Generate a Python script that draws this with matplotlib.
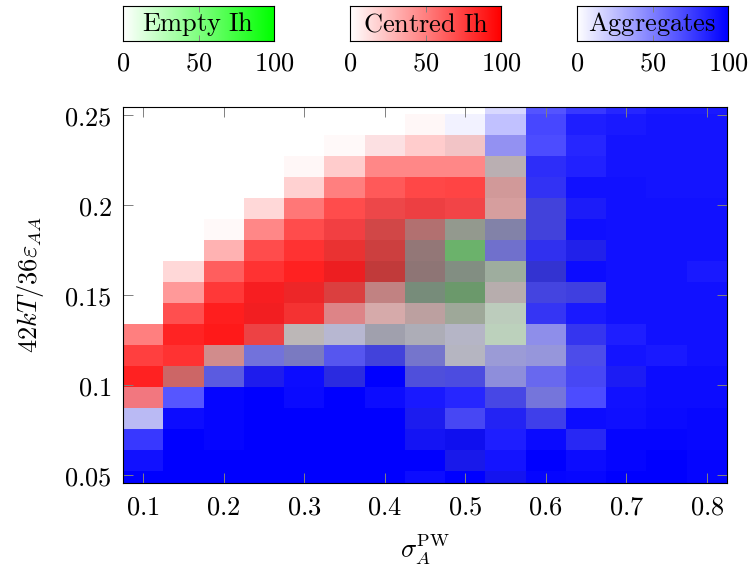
import matplotlib
matplotlib.use("Agg")
import matplotlib.pyplot as plt
import numpy as np

plt.rcParams["mathtext.fontset"] = "cm"
plt.rcParams["font.family"] = ["DejaVu Serif"]

# grid: sigma_A^PW (columns) and kT/eps (rows, top -> bottom)
sigma = [0.10, 0.15, 0.20, 0.25, 0.30, 0.35, 0.40, 0.45,
         0.50, 0.55, 0.60, 0.65, 0.70, 0.75, 0.80]
kT = [0.22, 0.21, 0.20, 0.19, 0.18, 0.17, 0.16, 0.15, 0.14, 0.13,
      0.12, 0.11, 0.10, 0.09, 0.08, 0.07, 0.06, 0.05, 0.04]

# percentage of runs ending in each state
empty_pct = [
    [0, 0, 0, 0, 0, 0, 0, 0, 0, 0, 0, 0, 0, 0, 0],
    [0, 0, 0, 0, 0, 0, 0, 0, 0, 0, 0, 0, 0, 0, 0],
    [0, 0, 0, 0, 0, 0, 0, 0, 2, 2, 0, 0, 0, 0, 0],
    [0, 0, 0, 0, 0, 0, 0, 0, 0, 13, 1, 0, 0, 0, 0],
    [0, 0, 0, 0, 0, 0, 0, 0, 0, 9, 2, 0, 0, 0, 0],
    [0, 0, 0, 0, 0, 0, 3, 3, 2, 8, 7, 1, 0, 0, 0],
    [0, 0, 0, 0, 0, 2, 9, 15, 23, 17, 7, 0, 0, 0, 0],
    [0, 0, 0, 0, 0, 4, 10, 21, 43, 10, 3, 4, 0, 0, 0],
    [0, 0, 0, 0, 0, 3, 12, 22, 27, 22, 9, 0, 0, 0, 0],
    [0, 0, 0, 1, 3, 7, 12, 30, 38, 14, 6, 6, 0, 0, 0],
    [0, 0, 0, 2, 2, 6, 8, 13, 22, 16, 2, 0, 0, 0, 0],
    [0, 0, 0, 3, 13, 9, 16, 14, 11, 17, 4, 3, 0, 0, 0],
    [0, 0, 9, 7, 12, 3, 7, 10, 12, 8, 7, 4, 0, 0, 0],
    [0, 10, 6, 3, 0, 6, 0, 7, 6, 7, 3, 2, 2, 0, 0],
    [1, 0, 0, 0, 0, 0, 0, 0, 0, 5, 7, 0, 0, 0, 0],
    [2, 0, 0, 0, 0, 0, 0, 3, 2, 2, 4, 0, 0, 0, 0],
    [0, 0, 0, 0, 0, 0, 0, 2, 3, 0, 0, 2, 0, 0, 0],
    [0, 0, 0, 0, 0, 0, 0, 0, 4, 0, 0, 0, 0, 0, 0],
    [0, 0, 0, 0, 0, 0, 0, 0, 0, 3, 0, 0, 0, 0, 0],
]
centred_pct = [
    [0, 0, 0, 0, 0, 0, 0, 0, 0, 0, 0, 0, 0, 0, 0],
    [0, 0, 0, 0, 0, 0, 0, 3, 0, 0, 0, 0, 0, 0, 0],
    [0, 0, 0, 0, 0, 2, 11, 20, 20, 3, 0, 0, 0, 0, 0],
    [0, 0, 0, 0, 3, 20, 47, 47, 47, 17, 1, 0, 0, 0, 0],
    [0, 0, 0, 0, 18, 50, 65, 72, 73, 31, 2, 0, 0, 0, 0],
    [0, 0, 0, 15, 53, 70, 68, 71, 70, 30, 7, 1, 0, 0, 0],
    [0, 0, 2, 47, 70, 72, 63, 41, 21, 17, 7, 0, 0, 0, 0],
    [0, 0, 30, 70, 80, 76, 65, 32, 15, 10, 3, 4, 0, 0, 0],
    [0, 15, 63, 80, 87, 84, 65, 32, 22, 16, 9, 0, 0, 0, 0],
    [0, 40, 78, 86, 81, 68, 37, 22, 20, 18, 6, 6, 0, 0, 0],
    [0, 69, 88, 85, 78, 41, 25, 24, 18, 10, 2, 0, 0, 0, 0],
    [50, 86, 90, 70, 15, 9, 16, 14, 11, 9, 4, 3, 0, 0, 0],
    [75, 80, 36, 7, 12, 3, 7, 10, 12, 8, 7, 4, 0, 0, 0],
    [87, 50, 6, 4, 0, 6, 0, 7, 6, 7, 3, 2, 2, 0, 0],
    [49, 0, 0, 0, 0, 0, 0, 0, 0, 5, 7, 0, 0, 0, 0],
    [2, 0, 0, 0, 0, 0, 0, 3, 2, 2, 4, 0, 0, 0, 0],
    [0, 0, 0, 0, 0, 0, 0, 2, 3, 0, 0, 2, 0, 0, 0],
    [0, 0, 0, 0, 0, 0, 0, 0, 4, 0, 0, 0, 0, 0, 0],
    [0, 0, 0, 0, 0, 0, 0, 0, 0, 3, 0, 0, 0, 0, 0],
]
agg_pct = [
    [0, 0, 0, 0, 0, 0, 0, 0, 0, 15, 67, 78, 85, 90, 90],
    [0, 0, 0, 0, 0, 0, 0, 0, 5, 24, 72, 88, 90, 92, 92],
    [0, 0, 0, 0, 0, 0, 1, 0, 3, 40, 70, 85, 92, 92, 92],
    [0, 0, 0, 0, 0, 0, 0, 0, 0, 14, 81, 87, 92, 92, 92],
    [0, 0, 0, 0, 0, 0, 0, 0, 0, 9, 78, 93, 93, 92, 92],
    [0, 0, 0, 0, 0, 0, 4, 4, 3, 8, 67, 88, 93, 93, 93],
    [0, 0, 0, 0, 0, 3, 9, 15, 19, 32, 67, 94, 93, 93, 93],
    [0, 0, 0, 0, 0, 4, 10, 21, 15, 46, 78, 83, 93, 93, 93],
    [0, 0, 0, 0, 0, 4, 12, 22, 22, 16, 71, 95, 93, 93, 90],
    [0, 0, 0, 2, 4, 7, 12, 23, 20, 14, 67, 69, 93, 93, 93],
    [0, 0, 0, 3, 2, 7, 8, 13, 16, 10, 77, 90, 93, 93, 93],
    [0, 0, 0, 4, 13, 19, 21, 18, 18, 9, 40, 76, 88, 93, 93],
    [0, 0, 9, 48, 40, 63, 67, 44, 17, 31, 34, 66, 92, 90, 93],
    [0, 10, 58, 85, 95, 77, 100, 62, 64, 37, 56, 70, 87, 95, 95],
    [4, 66, 98, 100, 96, 100, 95, 90, 85, 67, 47, 70, 93, 95, 95],
    [25, 95, 98, 100, 100, 100, 100, 86, 70, 84, 71, 95, 94, 96, 97],
    [78, 100, 98, 100, 100, 100, 100, 90, 91, 88, 96, 82, 98, 98, 97],
    [93, 100, 100, 100, 100, 100, 100, 100, 86, 92, 100, 95, 98, 100, 98],
    [100, 100, 100, 100, 100, 100, 100, 95, 100, 89, 98, 97, 100, 100, 98],
]

bars = [("Empty Ih", (0.0, 1.0, 0.0)),
        ("Centred Ih", (1.0, 0.0, 0.0)),
        ("Aggregates", (0.0, 0.0, 1.0))]

# each cell: white, tinted by the share of every state
e = np.array(empty_pct) / 100
c = np.array(centred_pct) / 100
a = np.array(agg_pct) / 100
rgb = np.stack([1 - e - a, 1 - c - a, 1 - e - c], axis=-1).clip(0, 1)

y = np.array(kT) * 42 / 36
dx = sigma[1] - sigma[0]
dy = abs(y[0] - y[1])

fig = plt.figure(figsize=(7.49, 5.74), dpi=100)
ax = fig.add_axes([123 / 749, 1 - 483 / 574, 604 / 749, 376 / 574])
ax.imshow(rgb, extent=[sigma[0] - dx / 2, sigma[-1] + dx / 2,
                       y[-1] - dy / 2, y[0] + dy / 2],
          origin="upper", aspect="auto", interpolation="nearest")
ax.set_xlim(0.075, 0.825)
ax.set_ylim(0.0457, 0.2546)
ax.set_xticks([0.1, 0.2, 0.3, 0.4, 0.5, 0.6, 0.7, 0.8])
ax.set_yticks([0.05, 0.1, 0.15, 0.2, 0.25])
ax.set_xticklabels([f"${v:g}$" for v in ax.get_xticks()])
ax.set_yticklabels([f"${v:g}$" for v in ax.get_yticks()])
ax.tick_params(direction="in", length=7, width=0.7, color="0.5",
               top=True, right=True, labelsize=19)
ax.tick_params(axis="x", pad=8)
ax.tick_params(axis="y", pad=8)
for s in ax.spines.values():
    s.set_linewidth(0.8)

fig.text(31 / 749, 1 - 285 / 574, r"$42kT/36\varepsilon_{AA}$",
         rotation=90, ha="center", va="center", fontsize=19)
fig.text(425 / 749, 1 - 550 / 574, r"$\sigma_A^{\mathrm{PW}}$",
         ha="center", va="center", fontsize=19)

# three colour bars on top
grad = np.linspace(0, 1, 256)
for (label, col), x0 in zip(bars, [123, 350, 577]):
    cax = fig.add_axes([x0 / 749, 1 - 41 / 574, 151 / 749, 35 / 574])
    g = 1 - grad[None, :, None] * (1 - np.array(col))[None, None, :]
    cax.imshow(g, extent=[0, 100, 0, 1], aspect="auto")
    cax.set_xlim(0, 100)
    cax.set_ylim(0, 1)
    cax.set_yticks([])
    cax.set_xticks([0, 50, 100])
    cax.set_xticklabels(["$0$", "$50$", "$100$"])
    cax.tick_params(axis="x", direction="in", length=4, width=0.7,
                    color="0.5", top=True, labelsize=19, pad=7)
    cax.text(50, 0.5, rf"$\mathrm{{{label.replace(' ', chr(92) + ' ')}}}$",
             ha="center", va="center", fontsize=19)
    for s in cax.spines.values():
        s.set_linewidth(0.8)

fig.savefig("out.png", dpi=100)
